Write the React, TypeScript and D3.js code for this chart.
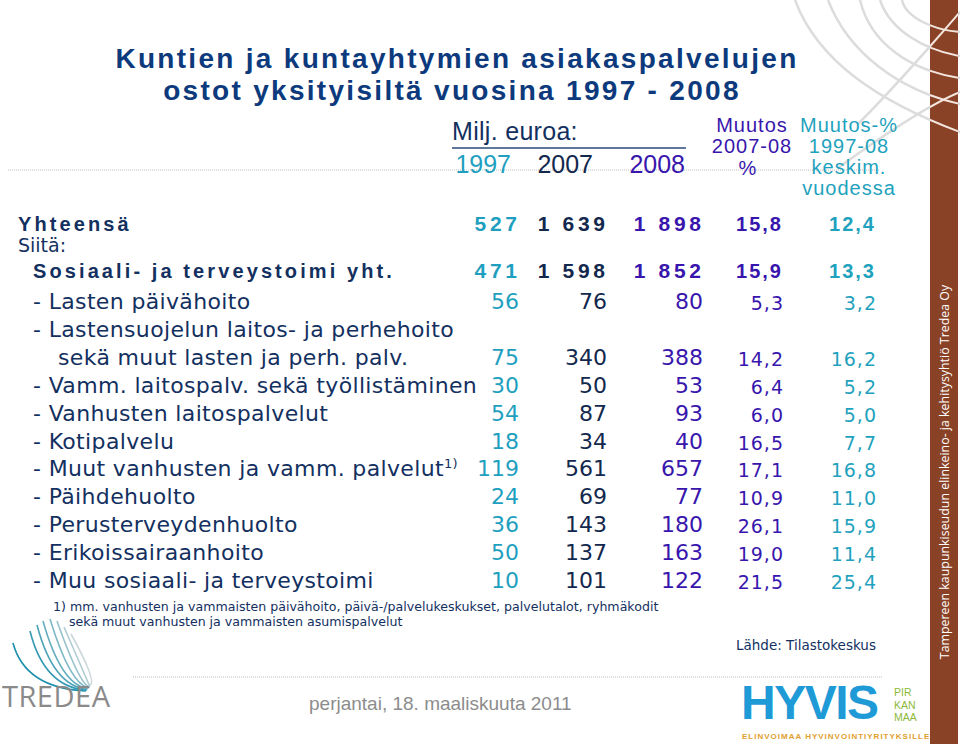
import React from "react";
import * as d3 from "d3";

// rows of the table (Milj. euroa)
const categories = [
  "- Lasten päivähoito",
  "- Lastensuojelun laitos- ja perhehoito\nsekä muut lasten ja perh. palv.",
  "- Vamm. laitospalv. sekä työllistäminen",
  "- Vanhusten laitospalvelut",
  "- Kotipalvelu",
  "- Muut vanhusten ja vamm. palvelut",
  "- Päihdehuolto",
  "- Perusterveydenhuolto",
  "- Erikoissairaanhoito",
  "- Muu sosiaali- ja terveystoimi",
];
const v1997 = [56, 75, 30, 54, 18, 119, 24, 36, 50, 10];
const v2007 = [76, 340, 50, 87, 34, 561, 69, 143, 137, 101];
const v2008 = [80, 388, 53, 93, 40, 657, 77, 180, 163, 122];
const change0708 = [5.3, 14.2, 6.4, 6.0, 16.5, 17.1, 10.9, 26.1, 19.0, 21.5];
const changeAvg = [3.2, 16.2, 5.2, 5.0, 7.7, 16.8, 11.0, 15.9, 11.4, 25.4];

const totalLabels = ["Yhteensä", "Sosiaali- ja terveystoimi yht."];
const total1997 = [527, 471];
const total2007 = [1639, 1598];
const total2008 = [1898, 1852];
const totalChange = [15.8, 15.9];
const totalAvg = [12.4, 13.3];

const yearLabels = ["1997", "2007", "2008"];
const columns = ["y1997", "y2007", "y2008", "chg", "avg"];

const fi = d3.formatLocale({ decimal: ",", thousands: " ", grouping: [3], currency: ["", " €"] });
const fmtInt = fi.format(",d");
const fmtDec = fi.format(".1f");

const W = 960;
const H = 744;
const NAVY = "#13305f";
const TITLE = "#0d3a7c";

const colColor = d3.scaleOrdinal<string, string>(columns, ["#1f9fbf", "#13284d", "#3816ad", "#3816ad", "#1fa2be"]);
const colRight = d3.scaleOrdinal<string, number>(columns, [519, 607, 703, 783, 876]);
const headRight = d3.scaleOrdinal<string, number>(yearLabels, [511, 593, 685]);

// label lines -> baseline
const rowY = d3.scaleLinear().domain([0, 10]).range([309, 588]);
const totalY = [231, 278];

const lineStart: number[] = [];
categories.reduce((acc, c) => {
  const n = c.split("\n").length;
  lineStart.push(acc);
  return acc + n;
}, 0);

const labelFont = "'DejaVu Sans', Verdana, sans-serif";
const arial = "'Liberation Sans', Arial, sans-serif";

const swirlTop = [
  "M795,0 C818,62 880,102 960,132",
  "M828,0 C848,52 898,90 960,104",
  "M860,0 C870,42 908,70 960,78",
  "M880,0 C890,30 924,50 960,56",
  "M902,0 C906,18 934,30 960,32",
  "M858,124 C898,84 934,42 960,12",
  "M838,168 C888,132 930,104 960,92",
];

const tredeaStarts: [number, number][] = [
  [13, 643], [30, 631], [37, 625], [43, 621], [50, 619], [57, 621], [64, 627], [71, 634],
];
const tredeaColor = d3.scaleLinear<string>().domain([0, tredeaStarts.length - 1]).range(["#1b8fab", "#c9d6da"]);

export default function App() {
  const rows = categories.map((c, i) => {
    const lines = c.split("\n");
    const numLine = lineStart[i] + lines.length - 1;
    return { lines, start: lineStart[i], y: rowY(numLine), i };
  });

  const numCell = (col: string, v: number, y: number, key: string) => {
    const isPct = col === "chg" || col === "avg";
    const ls = isPct ? 1 : 0;
    return (
      <text
        key={key}
        x={colRight(col) + ls}
        y={y}
        textAnchor="end"
        fill={colColor(col)}
        fontFamily={labelFont}
        fontSize={isPct ? 19 : 22}
        letterSpacing={ls}
      >
        {isPct ? fmtDec(v) : fmtInt(v)}
      </text>
    );
  };

  const totalCell = (col: string, v: number, y: number, key: string) => {
    const isPct = col === "chg" || col === "avg";
    const ls = isPct ? 2 : 3.7;
    return (
      <text
        key={key}
        x={colRight(col) + ls - 2}
        y={y}
        textAnchor="end"
        fill={colColor(col)}
        fontFamily={arial}
        fontWeight="bold"
        fontSize={isPct ? 20 : 21}
        letterSpacing={ls}
      >
        {isPct ? fmtDec(v) : fmtInt(v)}
      </text>
    );
  };

  return (
    <div style={{ position: "absolute", left: 0, top: 0 }}>
      <svg width={W} height={H} viewBox={`0 0 ${W} ${H}`} style={{ display: "block", background: "#fff" }}>
        <defs>
          <clipPath id="barClip">
            <rect x={930} y={0} width={28} height={H} />
          </clipPath>
        </defs>

        {/* decorative swirl, top right */}
        <g fill="none" stroke="#dcdcdc" strokeWidth={2.5}>
          {swirlTop.map((d, k) => <path key={k} d={d} />)}
        </g>
        <rect x={930} y={0} width={28} height={H} fill="#8a4226" />
        <g fill="none" stroke="#f4e6de" strokeWidth={2} clipPath="url(#barClip)">
          {swirlTop.map((d, k) => <path key={k} d={d} />)}
        </g>
        <text
          transform="translate(949,472) rotate(-90)"
          textAnchor="middle"
          fill="#ffffff"
          fontFamily="'Open Sans', 'Noto Sans', sans-serif"
          fontSize={12.4}
        >
          Tampereen kaupunkiseudun elinkeino- ja kehitysyhtiö Tredea Oy
        </text>

        {/* title */}
        <g fill={TITLE} fontFamily={arial} fontWeight="bold" fontSize={28} letterSpacing={2.3} textAnchor="middle">
          <text x={457} y={68}>Kuntien ja kuntayhtymien asiakaspalvelujen</text>
          <text x={452} y={100}>ostot yksityisiltä vuosina 1997 - 2008</text>
        </g>

        {/* separator lines */}
        <line x1={8} x2={880} y1={170} y2={170} stroke="#bdbdbd" strokeWidth={1} strokeDasharray="1,1" />
        <line x1={133} x2={882} y1={677} y2={677} stroke="#bdbdbd" strokeWidth={1} strokeDasharray="1,1" />

        {/* header */}
        <text x={452} y={140} fill={NAVY} fontFamily={arial} fontSize={25} letterSpacing={0.3}>Milj. euroa:</text>
        <line x1={452} x2={686} y1={148} y2={148} stroke="#2a4a7a" strokeWidth={1.5} />
        {yearLabels.map((yl, k) => (
          <text key={yl} x={headRight(yl)} y={173} textAnchor="end" fill={colColor(columns[k])} fontFamily={arial} fontSize={25}>
            {yl}
          </text>
        ))}
        <g fontFamily={arial} fontSize={20} letterSpacing={1} textAnchor="middle">
          <g fill={colColor("chg")}>
            <text x={752} y={132}>Muutos</text>
            <text x={752} y={153}>2007-08</text>
            <text x={748} y={175}>%</text>
          </g>
          <g fill={colColor("avg")}>
            <text x={849} y={132}>Muutos-%</text>
            <text x={849} y={153}>1997-08</text>
            <text x={849} y={174}>keskim.</text>
            <text x={849} y={195}>vuodessa</text>
          </g>
        </g>

        {/* totals */}
        {totalLabels.map((lab, t) => (
          <g key={lab}>
            <text x={t === 0 ? 18 : 33} y={totalY[t]} fill={NAVY} fontFamily={arial} fontWeight="bold" fontSize={20} letterSpacing={3.1}>
              {lab}
            </text>
            {totalCell("y1997", total1997[t], totalY[t], "a")}
            {totalCell("y2007", total2007[t], totalY[t], "b")}
            {totalCell("y2008", total2008[t], totalY[t], "c")}
            {totalCell("chg", totalChange[t], totalY[t], "d")}
            {totalCell("avg", totalAvg[t], totalY[t], "e")}
          </g>
        ))}
        <text x={18} y={252} fill={NAVY} fontFamily={labelFont} fontSize={19}>Siitä:</text>

        {/* detail rows */}
        {rows.map((r) => (
          <g key={r.i}>
            {r.lines.map((ln, k) => (
              <text key={k} x={k === 0 ? 33 : 58} y={rowY(r.start + k)} fill={NAVY} fontFamily={labelFont} fontSize={22} letterSpacing={0.35}>
                {r.i === 5 ? (
                  <>
                    {ln}
                    <tspan fontSize={13} dy={-8}>1)</tspan>
                  </>
                ) : (
                  ln
                )}
              </text>
            ))}
            {numCell("y1997", v1997[r.i], r.y, "a")}
            {numCell("y2007", v2007[r.i], r.y, "b")}
            {numCell("y2008", v2008[r.i], r.y, "c")}
            {numCell("chg", change0708[r.i], r.y + 1, "d")}
            {numCell("avg", changeAvg[r.i], r.y + 1, "e")}
          </g>
        ))}

        {/* footnote and source */}
        <g fill={NAVY} fontFamily={labelFont} fontSize={12.6}>
          <text x={53} y={611}>1) mm. vanhusten ja vammaisten päivähoito, päivä-/palvelukeskukset, palvelutalot, ryhmäkodit</text>
          <text x={69} y={626}>sekä muut vanhusten ja vammaisten asumispalvelut</text>
        </g>
        <text x={736} y={650} fill={NAVY} fontFamily={labelFont} fontSize={13.5}>Lähde: Tilastokeskus</text>

        {/* footer */}
        <text x={309} y={710} fill="#8c8c8c" fontFamily={arial} fontSize={19}>perjantai, 18. maaliskuuta 2011</text>

        {/* TREDEA logo */}
        <g fill="none" strokeWidth={1.6}>
          {tredeaStarts.map(([sx, sy], k) => (
            <path
              key={k}
              d={`M${sx},${sy} Q${sx + 12 + k * 2},${688 - k} ${86 + k * 0.6},${691 - k * 0.8}`}
              stroke={tredeaColor(k)}
            />
          ))}
        </g>
        <text x={2} y={707} fill="#8a8a8a" fontFamily="'Open Sans', 'Noto Sans', sans-serif" fontSize={29} letterSpacing={0.5}>TREDEA</text>

        {/* HYVIS logo */}
        <text x={741} y={719} fill="#1e9ad7" fontFamily={arial} fontWeight="bold" fontSize={48} letterSpacing={-1.5}>HYVIS</text>
        <g fill="#8db83a" fontFamily={arial} fontSize={10.5}>
          <text x={894} y={696}>PIR</text>
          <text x={894} y={708.5}>KAN</text>
          <text x={894} y={721}>MAA</text>
        </g>
        <text x={742} y={739} fill="#e0a030" fontFamily={arial} fontWeight="bold" fontSize={8} letterSpacing={1.0}>ELINVOIMAA HYVINVOINTIYRITYKSILLE</text>
      </svg>
    </div>
  );
}
